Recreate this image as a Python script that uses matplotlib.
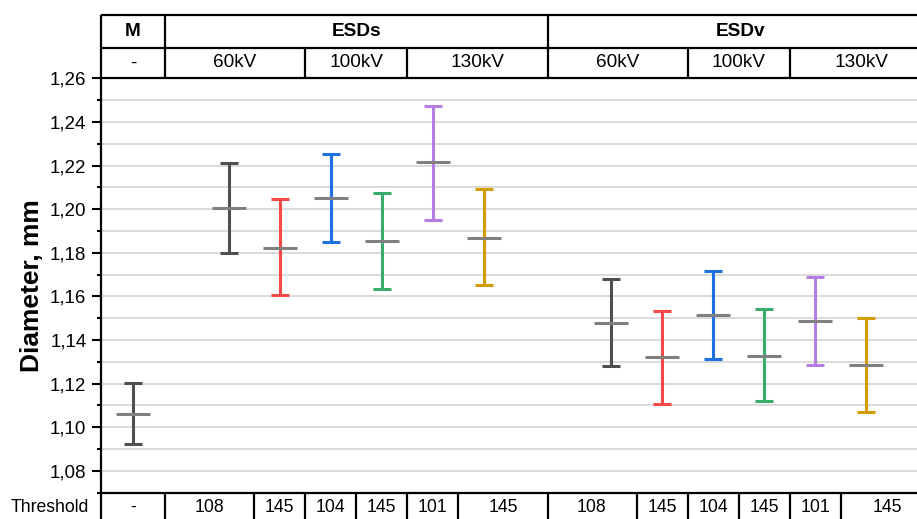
import matplotlib
matplotlib.use('Agg')
import matplotlib.pyplot as plt
import matplotlib.transforms as mtransforms
from matplotlib.ticker import MultipleLocator, FuncFormatter
import numpy as np

plt.rcParams['font.family'] = ['Liberation Sans', 'DejaVu Sans']

# ---------------- data ----------------
group_names = ['M', 'ESDs', 'ESDv']
voltage_labels = ['60kV', '100kV', '130kV']
m_label = '-'
m_threshold = '-'
m_mean = 1.1063
m_upper = 1.1203
m_lower = 1.0925

esds_mean = [1.2005, 1.1824, 1.2049, 1.1853, 1.2214, 1.1869]
esds_upper = [1.2210, 1.2045, 1.2253, 1.2072, 1.2472, 1.2091]
esds_lower = [1.1801, 1.1607, 1.1850, 1.1636, 1.1951, 1.1651]

esdv_mean = [1.1478, 1.1322, 1.1514, 1.1327, 1.1486, 1.1287]
esdv_upper = [1.1682, 1.1531, 1.1717, 1.1543, 1.1688, 1.1503]
esdv_lower = [1.1283, 1.1105, 1.1315, 1.1119, 1.1284, 1.1070]

thresholds = ['108', '145', '104', '145', '101', '145']

series_colors = ['#4f4f4f', '#f54949', '#1f70e0', '#3aab69', '#b57ee2', '#d39c00']
mean_color = '#808080'

# ---------------- layout ----------------
W, H = 917, 519
fig = plt.figure(figsize=(W / 100, H / 100), dpi=100)
ax_left, ax_right = 101, 934
ax_top, ax_bot = 78.3, 492.7
ax_h = ax_bot - ax_top
ax = fig.add_axes([ax_left / W, (H - ax_bot) / H, (ax_right - ax_left) / W, ax_h / H])

unit = 51.0
xmax = (ax_right - ax_left) / unit
ax.set_xlim(0, xmax)
ax.set_ylim(1.07, 1.26)

m_x = 0.625
esds_x = 2.5 + np.arange(len(esds_mean))
esdv_x = 10.0 + np.arange(len(esdv_mean))

# grid
ax.yaxis.set_major_locator(MultipleLocator(0.02))
ax.yaxis.set_minor_locator(MultipleLocator(0.01))
ax.yaxis.set_major_formatter(FuncFormatter(lambda v, p: f'{v:.2f}'.replace('.', ',')))
ax.yaxis.grid(True, which='both', color='#d4d4d4', lw=1.2)
ax.set_axisbelow(True)
ax.set_xticks([])
ax.tick_params(axis='y', which='major', length=6.5, width=1.5, direction='out',
               labelsize=13.5, pad=4)
ax.tick_params(axis='y', which='minor', length=3, width=1.5, direction='out')
for s in ['left', 'top', 'bottom', 'right']:
    ax.spines[s].set_linewidth(1.6)

lw = 2.2
capsize = 6.8


def draw(x, mean, lower, upper, color):
    mean = np.atleast_1d(mean)
    lower = np.atleast_1d(lower)
    upper = np.atleast_1d(upper)
    x = np.atleast_1d(x)
    ax.errorbar(x, mean, yerr=[mean - lower, upper - mean], fmt='none',
                ecolor=color, elinewidth=lw, capsize=capsize, capthick=lw, zorder=3)
    ax.plot(x, mean, marker='_', markersize=24.5, mew=lw, color=mean_color,
            linestyle='none', zorder=4)


draw(m_x, m_mean, m_lower, m_upper, series_colors[0])
for i in range(len(esds_mean)):
    draw(esds_x[i], esds_mean[i], esds_lower[i], esds_upper[i], series_colors[i])
for i in range(len(esdv_mean)):
    draw(esdv_x[i], esdv_mean[i], esdv_lower[i], esdv_upper[i], series_colors[i])

# ---------------- tables ----------------
trans = mtransforms.blended_transform_factory(ax.transData, ax.transAxes)
hy1 = 1 + (ax_top - 47.7) / ax_h
hy2 = 1 + (ax_top - 15.0) / ax_h
row1_y = 1 + (ax_top - 31.3) / ax_h
row2_y = 1 + (ax_top - 63.0) / ax_h
bot_y = -(507.7 - ax_bot) / ax_h
bot_end = -0.2
tlw = 1.6


def line(xs, ys):
    ax.plot(xs, ys, color='black', lw=tlw, transform=trans, clip_on=False,
            solid_capstyle='butt', zorder=5)


line([0, xmax], [hy2, hy2])
line([0, xmax], [hy1, hy1])
line([0, 0], [1, hy2])
line([0, 0], [0, bot_end])

m_edge = 1.25
esds_left = esds_x[0] - 1.25
esds_right = esds_x[-1] + 1.26
esdv_left = esdv_x[0] - 1.25
esdv_right = xmax

# header row 1
for xe in [m_edge, esds_right]:
    line([xe, xe], [1, hy2])
ax.text(m_x, row1_y, group_names[0], transform=trans, ha='center', va='center',
        fontsize=13.7, fontweight='bold')
ax.text((esds_left + esds_right) / 2, row1_y, group_names[1], transform=trans,
        ha='center', va='center', fontsize=13.7, fontweight='bold')
ax.text((esdv_left + esdv_right) / 2, row1_y, group_names[2], transform=trans,
        ha='center', va='center', fontsize=13.7, fontweight='bold')

# header row 2
ax.text(m_x, row2_y, m_label, transform=trans, ha='center', va='center', fontsize=13.7)
for xs, left, right in [(esds_x, esds_left, esds_right), (esdv_x, esdv_left, esdv_right)]:
    edges = [left, (xs[1] + xs[2]) / 2, (xs[3] + xs[4]) / 2, right]
    for e in edges[1:3]:
        line([e, e], [1, hy1])
    for k, lab in enumerate(voltage_labels):
        ax.text((edges[k] + edges[k + 1]) / 2, row2_y, lab, transform=trans,
                ha='center', va='center', fontsize=13.7)

# bottom row
ax.text(-12 / (ax_right - ax_left), bot_y, 'Threshold', transform=ax.transAxes,
        ha='right', va='center', fontsize=12.7)
ax.text(m_x, bot_y, m_threshold, transform=trans, ha='center', va='center', fontsize=12.7)
line([m_edge, m_edge], [0, bot_end])
for xs, left, right in [(esds_x, esds_left, esds_right), (esdv_x, esdv_left, esdv_right)]:
    edges = [left] + [(xs[k] + xs[k + 1]) / 2 for k in range(len(xs) - 1)] + [right]
    for e in edges[1:]:
        line([e, e], [0, bot_end])
    for k, lab in enumerate(thresholds):
        ax.text((edges[k] + edges[k + 1]) / 2, bot_y, lab, transform=trans,
                ha='center', va='center', fontsize=12.7)

# y label
ax.text((32 - ax_left) / (ax_right - ax_left), 0.5, 'Diameter, mm', transform=ax.transAxes,
        rotation=90, ha='center', va='center', fontsize=19, fontweight='bold')

fig.savefig('out.png', dpi=100)
